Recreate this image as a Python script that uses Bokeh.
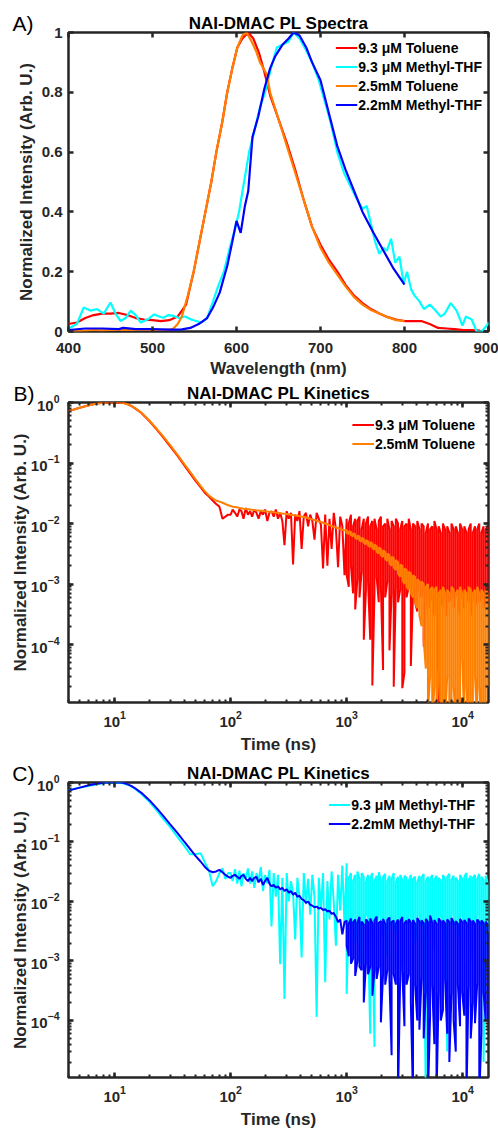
from bokeh.plotting import figure
from bokeh.models import Range1d, LinearAxis, LogAxis, FixedTicker, CustomJSTickFormatter
from bokeh.layouts import column
from bokeh.embed import file_html
from bokeh.resources import INLINE

FONT = "Liberation Sans"
AX = "#262626"
RED, CYAN, ORANGE, BLUE = "#ff0000", "#00ffff", "#ff8000", "#0000ff"

# ---------------- Panel A data (wavelength nm, normalized PL) ----------------
wl_red = [400, 410, 420, 430, 440, 450, 460, 470, 480, 490, 500, 510, 520, 530, 540, 549, 556, 563, 570, 576,
          583, 589, 595, 601, 607, 614, 620, 627, 633, 640, 650, 660, 670, 680, 690, 700, 710, 720, 730, 740,
          750, 760, 770, 780, 790, 800, 810, 820, 830, 840, 850, 860, 870, 880, 890]
pl_red = [0.025, 0.03, 0.045, 0.055, 0.06, 0.06, 0.062, 0.055, 0.045, 0.04, 0.038, 0.035, 0.038, 0.05, 0.09, 0.2, 0.3, 0.4, 0.5, 0.6,
          0.7, 0.8, 0.88, 0.95, 0.98, 1.0, 0.98, 0.93, 0.87, 0.79, 0.71, 0.63, 0.54, 0.44, 0.35, 0.29, 0.24, 0.2, 0.155, 0.12,
          0.095, 0.075, 0.06, 0.048, 0.04, 0.035, 0.035, 0.035, 0.025, 0.012, 0.01, 0.008, 0.005, 0.005, 0.003]

wl_cyan = [400, 410, 418, 426, 434, 442, 450, 456, 462, 468, 474, 480, 486, 494, 502, 508, 513, 519, 525, 532,
           539, 546, 552, 558, 565, 572, 578, 585, 592, 598, 603, 609, 615, 622, 628, 634, 641, 648, 655, 662,
           668, 675, 683, 690, 698, 705, 712, 720, 728, 735, 742, 750, 755, 760, 765, 770, 775, 779, 784, 789,
           794, 799, 803, 808, 812, 818, 823, 830, 837, 843, 848, 855, 862, 869, 873, 880, 886, 892, 898, 900]
pl_cyan = [0.01, 0.025, 0.08, 0.07, 0.075, 0.06, 0.097, 0.06, 0.035, 0.045, 0.07, 0.055, 0.03, 0.04, 0.057, 0.05, 0.046, 0.055, 0.052, 0.045,
           0.05, 0.04, 0.035, 0.03, 0.045, 0.1, 0.15, 0.2, 0.28, 0.34, 0.4, 0.5, 0.6, 0.68, 0.75, 0.8, 0.88, 0.95, 0.96, 0.97,
           1.0, 0.98, 0.94, 0.9, 0.84, 0.77, 0.7, 0.6, 0.53, 0.49, 0.45, 0.41, 0.42, 0.36, 0.3, 0.26, 0.28, 0.27, 0.31, 0.23,
           0.25, 0.16, 0.2, 0.14, 0.12, 0.1, 0.075, 0.09, 0.07, 0.05, 0.06, 0.095, 0.07, 0.02, 0.05, 0.04, 0.0, 0.0, 0.02, 0.03]

wl_orange = [400, 410, 420, 430, 440, 450, 460, 470, 480, 490, 500, 510, 520, 525, 530, 535, 542, 549, 556, 563,
             570, 576, 583, 589, 595, 601, 607, 612, 618, 623, 628, 632, 636, 640, 650, 660, 670, 680, 690, 700,
             710, 720, 730, 740, 750, 760, 770, 780, 790, 800]
pl_orange = [0.0, 0.002, 0.003, 0.005, 0.004, 0.005, 0.005, 0.006, 0.005, 0.005, 0.005, 0.005, 0.006, 0.01, 0.025, 0.05, 0.12, 0.2, 0.3, 0.4,
             0.5, 0.6, 0.7, 0.8, 0.88, 0.95, 0.99, 1.0, 0.97, 0.94, 0.9, 0.88, 0.86, 0.8, 0.71, 0.62, 0.53, 0.44, 0.35, 0.28,
             0.23, 0.19, 0.15, 0.115, 0.09, 0.072, 0.06, 0.048, 0.038, 0.035]

wl_blue = [400, 420, 440, 460, 465, 480, 500, 520, 535, 545, 555, 565, 572, 580, 589, 595, 600, 605, 610, 614,
           619, 626, 633, 640, 646, 655, 662, 668, 675, 683, 690, 700, 710, 720, 730, 740, 750, 763, 775, 787, 800]
pl_blue = [0.005, 0.01, 0.01, 0.008, 0.012, 0.008, 0.008, 0.006, 0.007, 0.012, 0.025, 0.045, 0.08, 0.13, 0.22, 0.3, 0.37, 0.33, 0.42, 0.47,
           0.65, 0.72, 0.81, 0.88, 0.92, 0.96, 0.98, 1.0, 0.99, 0.95, 0.9, 0.84, 0.73, 0.62, 0.54, 0.47, 0.4, 0.33, 0.27, 0.21, 0.157]

# ---------------- Panels B, C data (time ns, normalized PL) ----------------
# smooth part, 4-95 ns
t_early = [4, 5, 6, 7, 8, 9, 10, 11, 12, 13, 14, 15, 17, 20, 23, 26, 30, 35, 40, 45,
           50, 55, 60, 65, 70, 75, 80, 85, 90, 95]
# single-valued part, 100-958 ns
t_mid = [100, 104, 109, 114, 119, 124, 129, 135, 141, 147,
         153, 160, 167, 174, 182, 190, 198, 207, 216, 225,
         235, 245, 256, 267, 279, 291, 304, 317, 331, 345,
         360, 376, 392, 409, 427, 446, 465, 485, 506, 528,
         551, 575, 600, 626, 653, 682, 711, 742, 774, 808,
         843, 880, 918, 958]
# dense noisy part, 1000-16500 ns: upper and lower value of the trace at each time
t_noisy = [1000, 1043, 1089, 1136, 1185, 1237, 1290, 1346, 1405, 1466,
           1529, 1596, 1665, 1737, 1813, 1891, 1973, 2059, 2148, 2241,
           2339, 2440, 2546, 2656, 2771, 2892, 3017, 3148, 3284, 3427,
           3575, 3730, 3892, 4061, 4237, 4421, 4613, 4813, 5021, 5239,
           5466, 5703, 5951, 6209, 6478, 6759, 7052, 7358, 7677, 8010,
           8358, 8720, 9099, 9493, 9905, 10334, 10782, 11249, 11737, 12246,
           12776, 13330, 13908, 14511, 15140, 15800, 16500]

# 9.3 uM Toluene
red_early = [0.72, 0.82, 0.9, 0.96, 0.99, 1.0, 1.0, 1.0, 0.98, 0.93, 0.87, 0.8, 0.67, 0.49, 0.36, 0.27, 0.19, 0.13, 0.09, 0.066,
             0.05, 0.04, 0.032, 0.028, 0.024, 0.021, 0.019, 0.012, 0.013, 0.014]
red_mid = [0.014, 0.017, 0.015, 0.013, 0.017, 0.016, 0.012, 0.018, 0.014, 0.016,
           0.013, 0.017, 0.015, 0.012, 0.016, 0.014, 0.017, 0.011, 0.015, 0.016,
           0.013, 0.017, 0.012, 0.015, 0.011, 0.0044, 0.016, 0.012, 0.015, 0.0021,
           0.014, 0.011, 0.016, 0.0038, 0.013, 0.015, 0.009, 0.014, 0.011, 0.0054,
           0.015, 0.012, 0.0095, 0.0018, 0.014, 0.002, 0.012, 0.0038, 0.015, 0.008,
           0.0019, 0.013, 0.009, 0.0014]
red_hi = [0.012, 0.010, 0.014, 0.009, 0.012, 0.011, 0.013, 0.008, 0.012, 0.010,
          0.013, 0.009, 0.011, 0.012, 0.008, 0.011, 0.013, 0.009, 0.010, 0.012,
          0.008, 0.011, 0.009, 0.012, 0.010, 0.008, 0.011, 0.009, 0.010, 0.012,
          0.008, 0.010, 0.009, 0.011, 0.008, 0.010, 0.009, 0.007, 0.010, 0.008,
          0.009, 0.011, 0.008, 0.009, 0.007, 0.010, 0.008, 0.009, 0.007, 0.010,
          0.008, 0.009, 0.007, 0.010, 0.008, 0.009, 0.007, 0.008, 0.010, 0.007,
          0.009, 0.008, 0.010, 0.007, 0.009, 0.008, 0.009]
red_lo = [0.0014, 0.0009, 0.002, 0.0007, 0.00038, 0.0012, 0.0006, 0.0016, 0.00012, 0.0008,
          0.0011, 0.00012, 0.000021, 0.0007, 0.0013, 0.0005, 0.0009, 0.000038, 0.0006, 0.0011,
          0.00008, 0.0007, 0.00002, 0.0009, 0.0005, 0.0008, 0.000019, 0.000034, 0.0006, 0.0009,
          0.000044, 0.0007, 0.0005, 0.00035, 0.0008, 0.0006, 0.000093, 0.0005, 0.0007, 0.0004,
          0.0006, 0.0003, 0.0005, 0.00001, 0.0006, 0.0004, 0.0007, 0.0003, 0.0005, 0.0006,
          0.0004, 0.0007, 0.0005, 0.0003, 0.0006, 0.0004, 0.0007, 0.0005, 0.0003, 0.0006,
          0.0004, 0.0007, 0.0005, 0.0006, 0.0004, 0.0007, 0.0005]

# 2.5mM Toluene
orange_early = [0.72, 0.82, 0.9, 0.96, 0.99, 1.0, 1.0, 1.0, 0.98, 0.93, 0.87, 0.81, 0.68, 0.5, 0.37, 0.28, 0.2, 0.135, 0.095, 0.07,
                0.053, 0.042, 0.034, 0.029, 0.026, 0.024, 0.023, 0.022, 0.021, 0.02]
orange_mid = [0.0195, 0.019, 0.0188, 0.0185, 0.018, 0.0178, 0.0176, 0.0174, 0.0172, 0.017,
              0.0168, 0.0167, 0.0165, 0.0164, 0.0163, 0.0162, 0.016, 0.0158, 0.0157, 0.0155,
              0.0153, 0.0151, 0.015, 0.0148, 0.0146, 0.0145, 0.0143, 0.0141, 0.014, 0.0138,
              0.0136, 0.0134, 0.0132, 0.013, 0.0128, 0.0126, 0.0123, 0.012, 0.0117, 0.0114,
              0.0111, 0.0108, 0.0106, 0.0103, 0.01, 0.0097, 0.0094, 0.0091, 0.0088, 0.0086,
              0.0084, 0.0082, 0.0079, 0.0077]
orange_hi = [0.0078, 0.0075, 0.0072, 0.0069, 0.0066, 0.0063, 0.0061, 0.0058, 0.0056, 0.0053,
             0.0051, 0.0049, 0.0047, 0.0045, 0.0042, 0.0040, 0.0038, 0.0036, 0.0034, 0.0032,
             0.0030, 0.0028, 0.0027, 0.0025, 0.0023, 0.0021, 0.0020, 0.0018, 0.0017, 0.0016,
             0.0015, 0.0014, 0.0013, 0.0012, 0.0011, 0.0011, 0.0010, 0.0009, 0.0010, 0.0008,
             0.0009, 0.0008, 0.0009, 0.0007, 0.0008, 0.0009, 0.0007, 0.0008, 0.0007, 0.0009,
             0.0008, 0.0007, 0.0008, 0.0009, 0.0007, 0.0008, 0.0007, 0.0009, 0.0008, 0.0007,
             0.0008, 0.0009, 0.0007, 0.0008, 0.0007, 0.0008, 0.0007]
orange_lo = [0.0070, 0.0067, 0.0064, 0.0061, 0.0058, 0.0055, 0.0053, 0.0050, 0.0048, 0.0045,
             0.0043, 0.0041, 0.0039, 0.0037, 0.0034, 0.0032, 0.0030, 0.0028, 0.0026, 0.0024,
             0.0022, 0.0020, 0.0019, 0.0017, 0.0015, 0.0013, 0.0012, 0.0010, 0.0009, 0.0008,
             0.0007, 0.0006, 0.0005, 0.0004, 0.0003, 0.0002, 0.00012, 0.00004, 0.000008, 0.00003,
             0.000005, 0.00002, 0.000006, 0.00004, 0.000004, 0.00001, 0.000005, 0.00003, 0.000006, 0.000004,
             0.00002, 0.000005, 0.00001, 0.000004, 0.00006, 0.000005, 0.00002, 0.000004, 0.00001, 0.000006,
             0.00003, 0.000005, 0.00002, 0.000004, 0.00001, 0.000005, 0.00002]

# 9.3 uM Methyl-THF
cyan_early = [0.75, 0.82, 0.88, 0.93, 0.97, 1.0, 1.0, 0.99, 0.96, 0.91, 0.85, 0.78, 0.64, 0.47, 0.34, 0.25, 0.18, 0.12, 0.085, 0.062,
              0.062, 0.065, 0.045, 0.033, 0.018, 0.022, 0.03, 0.036, 0.024, 0.03]
cyan_mid = [0.03, 0.022, 0.035, 0.02, 0.033, 0.018, 0.03, 0.024, 0.036, 0.02,
            0.032, 0.017, 0.03, 0.022, 0.038, 0.015, 0.028, 0.02, 0.034, 0.0038,
            0.03, 0.012, 0.028, 0.00088, 0.025, 0.00023, 0.03, 0.01, 0.022, 0.014,
            0.0023, 0.025, 0.012, 0.00115, 0.03, 0.009, 0.024, 0.006, 0.028, 0.012,
            0.000115, 0.025, 0.008, 0.03, 0.00044, 0.022, 0.005, 0.032, 0.01, 0.0018,
            0.028, 0.007, 0.04, 0.004]
cyan_hi = [0.044, 0.025, 0.03, 0.022, 0.028, 0.032, 0.024, 0.03, 0.026, 0.021,
           0.028, 0.025, 0.03, 0.022, 0.027, 0.031, 0.023, 0.026, 0.029, 0.022,
           0.027, 0.024, 0.03, 0.021, 0.026, 0.028, 0.023, 0.027, 0.025, 0.022,
           0.028, 0.024, 0.026, 0.021, 0.027, 0.025, 0.029, 0.022, 0.026, 0.024,
           0.028, 0.023, 0.027, 0.025, 0.022, 0.028, 0.024, 0.026, 0.029, 0.023,
           0.027, 0.025, 0.022, 0.028, 0.024, 0.026, 0.03, 0.023, 0.027, 0.025,
           0.028, 0.024, 0.029, 0.026, 0.023, 0.027, 0.02]
cyan_lo = [0.00028, 0.005, 0.0035, 0.006, 0.002, 0.0045, 0.005, 0.0009, 0.004, 0.006,
           0.003, 0.00006, 0.005, 0.000036, 0.004, 0.006, 0.0025, 0.005, 0.004, 0.0012,
           0.006, 0.004, 0.005, 0.003, 0.0055, 0.0045, 0.0008, 0.005, 0.004, 0.006,
           0.0035, 0.005, 0.002, 0.0045, 0.006, 0.004, 0.005, 0.000005, 0.0045, 0.006,
           0.004, 0.0015, 0.005, 0.004, 0.006, 0.0035, 0.005, 0.00003, 0.0045, 0.006,
           0.004, 0.005, 0.0025, 0.0045, 0.006, 0.004, 0.005, 0.0035, 0.001, 0.005,
           0.004, 0.006, 0.0045, 0.004, 0.00002, 0.005, 0.003]

# 2.2mM Methyl-THF
blue_early = [0.73, 0.82, 0.9, 0.95, 0.99, 1.0, 1.0, 1.0, 0.98, 0.93, 0.87, 0.8, 0.67, 0.5, 0.37, 0.28, 0.2, 0.14, 0.1, 0.075,
              0.058, 0.047, 0.038, 0.033, 0.031, 0.032, 0.034, 0.031, 0.028, 0.026]
blue_mid = [0.025, 0.027, 0.028, 0.026, 0.024, 0.027, 0.028, 0.024, 0.022, 0.025,
            0.022, 0.025, 0.026, 0.021, 0.024, 0.019, 0.022, 0.025, 0.02, 0.018,
            0.019, 0.017, 0.018, 0.016, 0.017, 0.015, 0.016, 0.014, 0.015, 0.013,
            0.014, 0.012, 0.0125, 0.011, 0.0105, 0.0095, 0.01, 0.0088, 0.0085, 0.008,
            0.0082, 0.0076, 0.0078, 0.0072, 0.0074, 0.0068, 0.007, 0.0062, 0.0064, 0.0055,
            0.0045, 0.005, 0.0028, 0.0045]
blue_hi = [0.0048, 0.0042, 0.0052, 0.0045, 0.005, 0.0044, 0.0055, 0.0046, 0.0041, 0.005,
           0.0045, 0.0052, 0.0043, 0.0048, 0.0056, 0.0044, 0.0047, 0.0051, 0.0042, 0.0049,
           0.0054, 0.0045, 0.0048, 0.0042, 0.005, 0.0046, 0.0055, 0.0043, 0.0048, 0.0051,
           0.0044, 0.0049, 0.0042, 0.0053, 0.0046, 0.0048, 0.0043, 0.0051, 0.0045, 0.0058,
           0.0044, 0.0049, 0.0042, 0.0052, 0.0046, 0.0048, 0.0043, 0.005, 0.0045, 0.0053,
           0.0044, 0.0047, 0.0042, 0.0051, 0.0045, 0.0049, 0.0043, 0.0052, 0.0046, 0.0048,
           0.0042, 0.005, 0.0045, 0.0048, 0.0043, 0.0046, 0.004]
blue_lo = [0.0018, 0.0012, 0.0009, 0.0011, 0.00056, 0.001, 0.0008, 0.0007, 0.0002, 0.0009,
           0.0006, 0.0008, 0.00026, 0.0007, 0.0005, 0.0008, 0.000093, 0.0006, 0.0004, 0.0007,
           0.0005, 0.000026, 0.0006, 0.0004, 0.000005, 0.0005, 0.0007, 0.00008, 0.0004, 0.0006,
           0.0002, 0.000005, 0.0004, 0.0001, 0.00007, 0.0005, 0.00005, 0.0003, 0.000005, 0.00012,
           0.0004, 0.00004, 0.000005, 0.0003, 0.0001, 0.00015, 0.0005, 0.00006, 0.00002, 0.0003,
           0.0001, 0.00003, 0.0004, 0.00008, 0.0003, 0.00012, 0.000005, 0.0004, 0.00005, 0.0002,
           0.00009, 0.0004, 0.000005, 0.00006, 0.0003, 0.0001, 0.0001]


def trace(early, mid, hi, lo):
    """Path through the read values; in the dense part it runs hi/lo at each time (snake order)."""
    xs = t_early[:len(early)] + t_mid[:len(mid)]
    ys = list(early) + list(mid)
    n = min(len(t_noisy), len(hi), len(lo))
    for i in range(n):
        pair = (hi[i], lo[i]) if i % 2 == 0 else (lo[i], hi[i])
        xs += [t_noisy[i], t_noisy[i]]
        ys += list(pair)
    return xs, ys


def style(p, ticks_x=None, ticks_y=None, log=False):
    xax = p.below[0]
    yax = p.left[0]
    p.outline_line_color = AX
    p.outline_line_width = 2.5
    p.xgrid.visible = False
    p.ygrid.visible = False
    p.title.text_font = FONT
    p.title.text_font_size = "17px"
    p.title.text_font_style = "bold"
    p.title.text_color = "#000000"
    p.title.align = "center"
    p.title.standoff = 0
    for ax in (xax, yax):
        ax.axis_line_color = None
        ax.major_tick_in = 5
        ax.major_tick_out = 0
        ax.major_tick_line_color = AX
        ax.major_tick_line_width = 2.5
        ax.minor_tick_in = 3 if log else 0
        ax.minor_tick_out = 0
        ax.minor_tick_line_color = AX
        ax.minor_tick_line_width = 2
        ax.major_label_text_font = FONT
        ax.major_label_text_font_size = "15px"
        ax.major_label_text_font_style = "bold"
        ax.major_label_text_color = AX
        ax.axis_label_text_font = FONT
        ax.axis_label_text_font_size = "17px"
        ax.axis_label_text_font_style = "bold"
        ax.axis_label_text_color = AX
        ax.axis_label_standoff = 3
    xax.major_label_standoff = 8 if log else 11
    yax.major_label_standoff = 9 if log else 6
    if log:
        yax.axis_label_standoff = -2
        xax.axis_label_standoff = 5
    if ticks_x is not None:
        xax.ticker = FixedTicker(ticks=ticks_x)
    if ticks_y is not None:
        yax.ticker = FixedTicker(ticks=ticks_y)
    Ax = LogAxis if log else LinearAxis
    top = Ax(ticker=xax.ticker, formatter=CustomJSTickFormatter(code="return ''"))
    right = Ax(ticker=yax.ticker, formatter=CustomJSTickFormatter(code="return ''"))
    for a in (top, right):
        a.axis_line_color = None
        a.major_label_standoff = 0
        a.major_tick_in = 5
        a.major_tick_out = 0
        a.major_tick_line_color = AX
        a.major_tick_line_width = 2.5
        a.minor_tick_in = 3 if log else 0
        a.minor_tick_out = 0
        a.minor_tick_line_color = AX
        a.minor_tick_line_width = 2
        a.axis_label = None
    p.add_layout(top, "above")
    p.add_layout(right, "right")
    return xax, yax


def panel_letter(p, letter, standoff):
    """Panel letter drawn as the one tick label of an extra, line-less left axis at the top of the y range.
    A second, empty line lifts the letter above the frame's top edge."""
    lax = LinearAxis(ticker=FixedTicker(ticks=[1.0]), major_label_overrides={1: letter + "\n"})
    lax.axis_line_color = None
    lax.major_tick_line_color = None
    lax.minor_tick_line_color = None
    lax.major_tick_in = 0
    lax.major_tick_out = 0
    lax.major_label_standoff = standoff
    lax.major_label_text_font = FONT
    lax.major_label_text_font_size = "21px"
    lax.major_label_text_font_style = "normal"
    lax.major_label_text_color = "#000000"
    lax.major_label_text_line_height = 0.75
    lax.axis_label = None
    p.add_layout(lax, "left")


def style_legend(p, margin, padding):
    lg = p.legend[0]
    lg.location = "top_right"
    lg.label_text_font = FONT
    lg.label_text_font_size = "14px"
    lg.label_text_font_style = "bold"
    lg.label_text_color = "#000000"
    lg.background_fill_alpha = 0
    lg.border_line_alpha = 0
    lg.glyph_width = 22
    lg.glyph_height = 19
    lg.label_height = 19
    lg.label_standoff = 1
    lg.spacing = 0
    lg.margin = margin
    lg.padding = padding


# ---------------- Panel A ----------------
pA = figure(width=498, height=380, x_range=Range1d(400, 900), y_range=Range1d(0, 1),
            output_backend="svg", toolbar_location=None, title="NAI-DMAC PL Spectra",
            min_border_left=68, min_border_right=10, min_border_top=32, min_border_bottom=46)
xA, yA = style(pA, ticks_x=[400, 500, 600, 700, 800, 900], ticks_y=[0, 0.2, 0.4, 0.6, 0.8, 1.0])
yA.major_label_overrides = {0: "0", 1: "1"}
xA.axis_label = "Wavelength (nm)"
yA.axis_label = "Normalized Intensity (Arb. U.)"
pA.line(wl_red, pl_red, color=RED, line_width=2.2, legend_label="9.3 μM Toluene")
pA.line(wl_cyan, pl_cyan, color=CYAN, line_width=2.2, legend_label="9.3 μM Methyl-THF")
pA.line(wl_orange, pl_orange, color=ORANGE, line_width=2.2, legend_label="2.5mM Toluene")
pA.line(wl_blue, pl_blue, color=BLUE, line_width=2.2, legend_label="2.2mM Methyl-THF")
style_legend(pA, 4, 2)
panel_letter(pA, "A)", -20)


def kinetics(height, top, bottom, letter, s1, s2):
    p = figure(width=498, height=height, x_axis_type="log", y_axis_type="log",
               x_range=Range1d(4, 16700), y_range=Range1d(1.1e-5, 1.0),
               output_backend="svg", toolbar_location=None, title="NAI-DMAC PL Kinetics",
               min_border_left=68, min_border_right=10, min_border_top=top, min_border_bottom=bottom)
    xax, yax = style(p, log=True)
    xax.axis_label = "Time (ns)"
    yax.axis_label = "Normalized Intensity (Arb. U.)"
    for (xs, ys, col, lab) in (s1, s2):
        p.line(xs, ys, color=col, line_width=2, legend_label=lab)
    style_legend(p, 10, 3)
    panel_letter(p, letter, -27)
    return p


xr, yr = trace(red_early, red_mid, red_hi, red_lo)
xo, yo = trace(orange_early, orange_mid, orange_hi, orange_lo)
xc, yc = trace(cyan_early, cyan_mid, cyan_hi, cyan_lo)
xb, yb = trace(blue_early, blue_mid, blue_hi, blue_lo)

pB = kinetics(380, 22, 58, "B)", (xr, yr, RED, "9.3 μM Toluene"), (xo, yo, ORANGE, "2.5mM Toluene"))
pC = kinetics(371, 22, 50, "C)", (xc, yc, CYAN, "9.3 μM Methyl-THF"), (xb, yb, BLUE, "2.2mM Methyl-THF"))

layout = column(pA, pB, pC, spacing=0)
open("out.html", "w").write(file_html(layout, INLINE))
